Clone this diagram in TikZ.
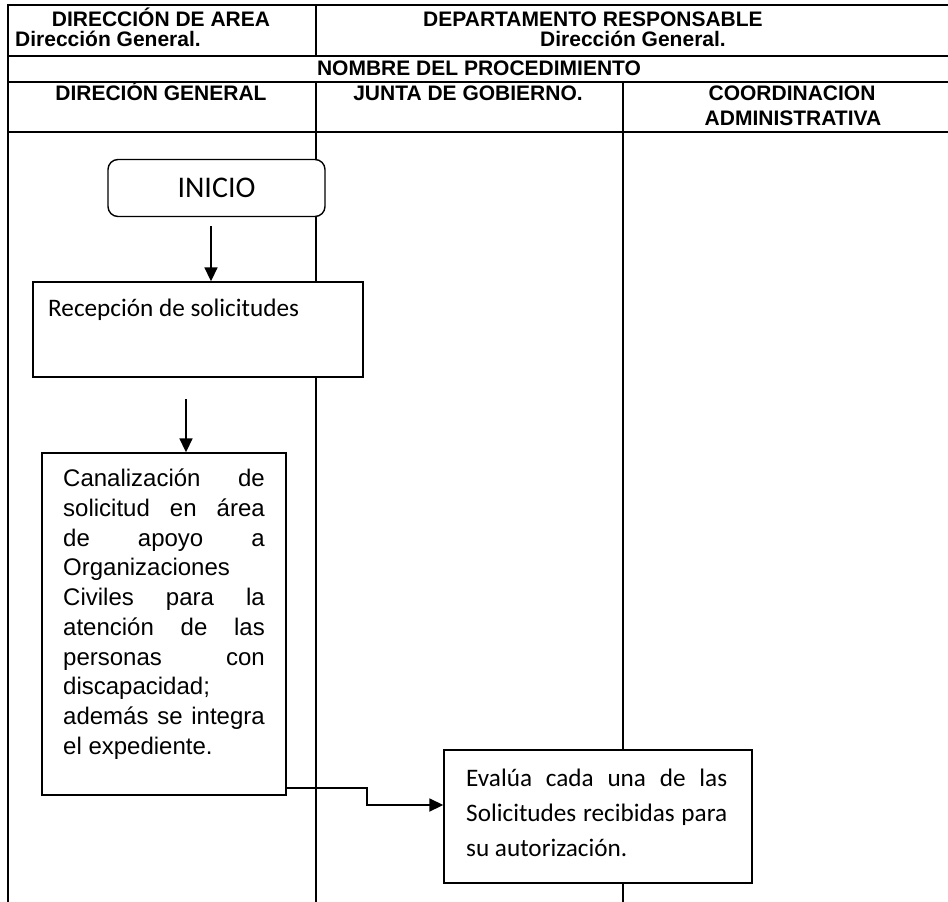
\documentclass[tikz,border=0pt]{standalone}
\usepackage{fontspec}
\setmainfont{Liberation Sans}
\newfontfamily\calibri{Carlito}
\usetikzlibrary{arrows.meta}
\begin{document}
\begin{tikzpicture}[x=1pt,y=-1pt,
  tline/.style={line width=2pt},
  hdr/.style={font=\fontsize{21}{23}\selectfont\bfseries, inner sep=0pt, anchor=base},
  boxst/.style={draw, line width=1.4pt, fill=white},
  arr/.style={line width=1.8pt, -{Triangle[length=14pt,width=13pt]}},
  ctext/.style={font=\calibri\fontsize{25.2}{35}\selectfont, inner sep=0pt, align=left},
  atext/.style={font=\fontsize{24}{29.7}\selectfont, inner sep=0pt, align=left}
]
\useasboundingbox (0,0) rectangle (948,902);
% table lines
\draw[tline] (8,5) -- (948,5);
\draw[tline] (8,56) -- (948,56);
\draw[tline] (8,82) -- (948,82);
\draw[tline] (8,132) -- (948,132);
\draw[tline] (8,4) -- (8,902);
\draw[tline] (316,5) -- (316,56);
\draw[tline] (316,82) -- (316,902);
\draw[tline] (623,82) -- (623,902);
% header texts
\node[hdr] (h1) at (161,27) {DIRECCIÓN DE AREA};
\node[hdr, anchor=base west] (h2) at (15,46) {Dirección General.};
\node[hdr] (h3) at (593,27) {DEPARTAMENTO RESPONSABLE};
\node[hdr] (h4) at (633,46) {Dirección General.};
\node[hdr] (h5) at (479,75) {NOMBRE DEL PROCEDIMIENTO};
\node[hdr] (h6) at (161,100) {DIRECIÓN GENERAL};
\node[hdr] (h7) at (468,100) {JUNTA DE GOBIERNO.};
\node[hdr] (h8) at (792,100) {COORDINACION};
\node[hdr] (h9) at (793,125) {ADMINISTRATIVA};
% boxes
\node[boxst, rounded corners=10pt, minimum width=217pt, minimum height=57pt, font=\calibri\fontsize{30}{32}\selectfont] (inicio) at (216.5,188) {INICIO};
\node[boxst, minimum width=330pt, minimum height=95pt] (recep) at (198,329.5) {};
\node[ctext, anchor=west] (recept) at (48,310) {Recepción de solicitudes};
\node[boxst, minimum width=244pt, minimum height=342pt] (canal) at (164,624) {};
\node[atext, anchor=north west] (canalt) at (63,469) {%
\makebox[201.6pt][s]{Canalización de}\\
\makebox[201.6pt][s]{solicitud en área}\\
\makebox[201.6pt][s]{de apoyo a}\\
\makebox[201.6pt][l]{Organizaciones}\\
\makebox[201.6pt][s]{Civiles para la}\\
\makebox[201.6pt][s]{atención de las}\\
\makebox[201.6pt][s]{personas con}\\
\makebox[201.6pt][l]{discapacidad;}\\
\makebox[201.6pt][s]{además se integra}\\
\makebox[201.6pt][l]{el expediente.}};
\node[boxst, minimum width=308pt, minimum height=133pt] (evalua) at (598,816.5) {};
\node[ctext, anchor=north west] (evaluat) at (466,769) {%
\makebox[261pt][s]{Evalúa cada una de las}\\
\makebox[261pt][s]{Solicitudes recibidas para}\\
\makebox[261pt][l]{su autorización.}};
% connectors
\coordinate (a1) at (211,226);
\draw[arr] (a1) -- (a1 |- recep.north);
\coordinate (a2) at (186,399);
\draw[arr] (a2) -- (a2 |- canal.north);
\draw[arr] (canal.east |- 0,788) -- (367,788) -- (367,805) -- (evalua.west |- 0,805);
\end{tikzpicture}
\end{document}
